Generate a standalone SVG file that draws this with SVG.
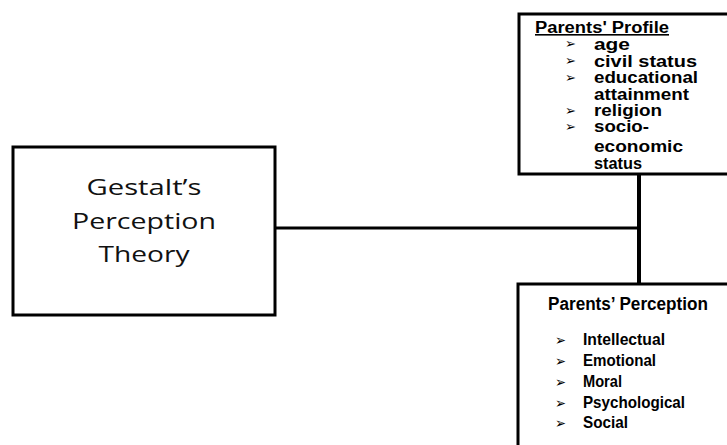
<svg xmlns="http://www.w3.org/2000/svg" width="727" height="445" viewBox="0 0 727 445">
<style>
.box{fill:#fff;stroke:#000;stroke-width:3}
.conn{stroke:#000;fill:none}
.cal{font-family:"Open Sans","Noto Sans",sans-serif;font-size:22px;fill:#111;text-anchor:middle}
.ar{font-family:"Liberation Sans",Arial,sans-serif;font-weight:bold;fill:#000}
.p{font-size:16px}
.q{font-size:17px}
.bul{font-family:"DejaVu Sans",sans-serif;fill:#000}
</style>
<rect width="727" height="445" fill="#fff"/>
<g id="connectors">
<line class="conn" x1="275" y1="228" x2="641" y2="228" stroke-width="3"/>
<line class="conn" x1="639" y1="174" x2="639" y2="284" stroke-width="4"/>
</g>
<g id="gestalt">
<rect class="box" x="13" y="147" width="262" height="168"/>
<text class="cal" x="144" y="195" textLength="115" lengthAdjust="spacingAndGlyphs">Gestalt’s</text>
<text class="cal" x="144" y="229" textLength="144" lengthAdjust="spacingAndGlyphs">Perception</text>
<text class="cal" x="144" y="262" textLength="91" lengthAdjust="spacingAndGlyphs">Theory</text>
</g>
<g id="profile">
<rect class="box" x="519" y="14" width="215" height="160"/>
<text class="ar p" x="535" y="33" textLength="134" lengthAdjust="spacingAndGlyphs" text-decoration="underline">Parents' Profile</text>
<g class="bul" font-size="13">
<text x="565" y="48" textLength="11" lengthAdjust="spacingAndGlyphs">➢</text>
<text x="565" y="65" textLength="11" lengthAdjust="spacingAndGlyphs">➢</text>
<text x="565" y="82" textLength="11" lengthAdjust="spacingAndGlyphs">➢</text>
<text x="565" y="115" textLength="11" lengthAdjust="spacingAndGlyphs">➢</text>
<text x="565" y="131" textLength="11" lengthAdjust="spacingAndGlyphs">➢</text>
</g>
<text class="ar p" x="594" y="49.5" textLength="36" lengthAdjust="spacingAndGlyphs">age</text>
<text class="ar p" x="594" y="66.5" textLength="103" lengthAdjust="spacingAndGlyphs">civil status</text>
<text class="ar p" x="594" y="83" textLength="104" lengthAdjust="spacingAndGlyphs">educational</text>
<text class="ar p" x="594" y="100" textLength="95" lengthAdjust="spacingAndGlyphs">attainment</text>
<text class="ar p" x="594" y="116" textLength="68" lengthAdjust="spacingAndGlyphs">religion</text>
<text class="ar p" x="594" y="132" textLength="55" lengthAdjust="spacingAndGlyphs">socio-</text>
<text class="ar p" x="594" y="152" textLength="89" lengthAdjust="spacingAndGlyphs">economic</text>
<text class="ar p" x="594" y="169" textLength="48" lengthAdjust="spacingAndGlyphs">status</text>
</g>
<g id="perception">
<rect class="box" x="518" y="284" width="220" height="170"/>
<text class="ar" font-size="18" x="548" y="310" textLength="160" lengthAdjust="spacingAndGlyphs">Parents’ Perception</text>
<g class="bul" font-size="14">
<text x="555" y="345" textLength="11" lengthAdjust="spacingAndGlyphs">➢</text>
<text x="555" y="366" textLength="11" lengthAdjust="spacingAndGlyphs">➢</text>
<text x="555" y="387" textLength="11" lengthAdjust="spacingAndGlyphs">➢</text>
<text x="555" y="408" textLength="11" lengthAdjust="spacingAndGlyphs">➢</text>
<text x="555" y="428" textLength="11" lengthAdjust="spacingAndGlyphs">➢</text>
</g>
<text class="ar q" x="583" y="345" textLength="82" lengthAdjust="spacingAndGlyphs">Intellectual</text>
<text class="ar q" x="583" y="366" textLength="73" lengthAdjust="spacingAndGlyphs">Emotional</text>
<text class="ar q" x="583" y="387" textLength="39" lengthAdjust="spacingAndGlyphs">Moral</text>
<text class="ar q" x="583" y="408" textLength="102" lengthAdjust="spacingAndGlyphs">Psychological</text>
<text class="ar q" x="583" y="428" textLength="45" lengthAdjust="spacingAndGlyphs">Social</text>
</g>
</svg>
